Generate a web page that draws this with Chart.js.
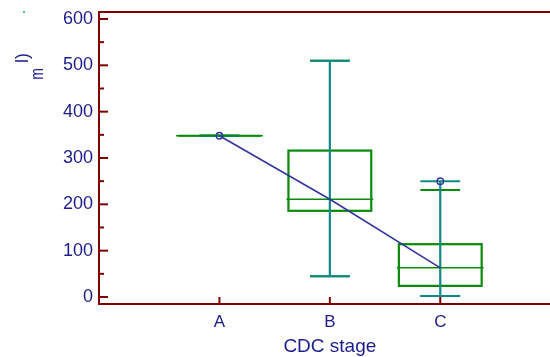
<!DOCTYPE html>
<html><head><meta charset="utf-8">
<style>html,body{margin:0;padding:0;background:#fff}#wrap{width:550px;height:357px}</style>
<script src="https://cdn.jsdelivr.net/npm/chart.js@4/dist/chart.umd.min.js"></script>
</head><body><div id="wrap"><canvas id="c" width="550" height="357"></canvas></div>
<script>
// ---- data ----
const categories = ['A', 'B', 'C'];
const whiskerLow = [348, 45, 2];
const whiskerHigh = [348, 510, 250];
const fenceLow = [348, 45, 2];
const fenceHigh = [348, 510, 231];
const q1 = [348, 186, 24];
const q3 = [348, 316, 114];
const medians = [348, 211, 63];
const markerIndex = [0, 2];
const markerValues = [348, 250];
const yTicks = [0, 100, 200, 300, 400, 500, 600];
const yMinorTicks = [50, 150, 250, 350, 450, 550];
const xTitle = 'CDC stage';

// ---- styles ----
const TEXT = '#1c1c8c';
const AXIS = '#800000';
const GREEN = '#0a8a0a';
const TEAL = '#108888';
const BLUE = '#3535a0';
const FONT = '"Liberation Sans", Arial, sans-serif';

const boxPlugin = {
  id: 'boxes',
  beforeDatasetsDraw(chart) {
    const ctx = chart.ctx, xs = chart.scales.x, ys = chart.scales.y;
    const unit = xs.getPixelForValue(2) - xs.getPixelForValue(1);
    const boxHalf = unit * 0.375, capHalf = unit * 0.18, fenceHalf = unit * 0.18;
    ctx.save();
    categories.forEach((c, i) => {
      const cx = xs.getPixelForValue(i + 1);
      const yq1 = ys.getPixelForValue(q1[i]), yq3 = ys.getPixelForValue(q3[i]);
      ctx.strokeStyle = GREEN; ctx.lineWidth = 2.2;
      ctx.strokeRect(cx - boxHalf, yq3, boxHalf * 2, yq1 - yq3);
      ctx.lineWidth = 2;
      [fenceLow[i], fenceHigh[i]].forEach(v => {
        const y = ys.getPixelForValue(v);
        ctx.beginPath(); ctx.moveTo(cx - fenceHalf, y); ctx.lineTo(cx + fenceHalf, y); ctx.stroke();
      });
      ctx.strokeStyle = TEAL; ctx.lineWidth = 2.2;
      const yl = ys.getPixelForValue(whiskerLow[i]), yh = ys.getPixelForValue(whiskerHigh[i]);
      ctx.beginPath(); ctx.moveTo(cx, yl); ctx.lineTo(cx, yh); ctx.stroke();
      ctx.lineWidth = 2;
      [yl, yh].forEach(y => {
        ctx.beginPath(); ctx.moveTo(cx - capHalf, y); ctx.lineTo(cx + capHalf, y); ctx.stroke();
      });
      const ym = ys.getPixelForValue(medians[i]);
      ctx.strokeStyle = GREEN; ctx.lineWidth = 1.6;
      ctx.beginPath(); ctx.moveTo(cx - boxHalf - 2, ym); ctx.lineTo(cx + boxHalf + 2, ym); ctx.stroke();
    });
    ctx.restore();
  },
  afterDatasetsDraw(chart) {
    const ctx = chart.ctx, xs = chart.scales.x, ys = chart.scales.y, a = chart.chartArea;
    ctx.save();
    ctx.strokeStyle = AXIS; ctx.lineWidth = 2;
    ctx.beginPath();
    ctx.moveTo(chart.width, a.top); ctx.lineTo(a.left, a.top); ctx.lineTo(a.left, a.bottom); ctx.lineTo(chart.width, a.bottom);
    ctx.stroke();
    yTicks.forEach(v => {
      const y = ys.getPixelForValue(v);
      ctx.beginPath(); ctx.moveTo(a.left, y); ctx.lineTo(a.left + 9, y); ctx.stroke();
    });
    yMinorTicks.forEach(v => {
      const y = ys.getPixelForValue(v);
      ctx.beginPath(); ctx.moveTo(a.left, y); ctx.lineTo(a.left + 5, y); ctx.stroke();
    });
    categories.forEach((c, i) => {
      const x = xs.getPixelForValue(i + 1);
      ctx.beginPath(); ctx.moveTo(x, a.bottom); ctx.lineTo(x, a.bottom - 7); ctx.stroke();
    });
    ctx.fillStyle = TEXT;
    ctx.font = '19px ' + FONT;
    ctx.textAlign = 'center'; ctx.textBaseline = 'middle';
    ctx.fillText(xTitle, xs.getPixelForValue(2), 347);
    // clipped y-axis title fragments
    ctx.textBaseline = 'alphabetic';
    ctx.save(); ctx.translate(28, 58); ctx.rotate(-Math.PI / 2);
    ctx.font = '18px ' + FONT; ctx.fillText('l)', 0, 0); ctx.restore();
    ctx.save(); ctx.translate(43, 74); ctx.rotate(-Math.PI / 2); ctx.scale(1, 1.35);
    ctx.font = '14px ' + FONT; ctx.fillText('m', 0, 0); ctx.restore();
    ctx.fillStyle = '#4fb0b0'; ctx.fillRect(23, 11, 2, 2);
    ctx.restore();
  }
};

new Chart(document.getElementById('c'), {
  type: 'line',
  data: {
    datasets: [
      {
        data: medians.map((v, i) => ({ x: i + 1, y: v })),
        borderColor: BLUE, borderWidth: 1.6, pointRadius: 0, fill: false, tension: 0
      },
      {
        type: 'scatter',
        data: markerIndex.map((k, j) => ({ x: k + 1, y: markerValues[j] })),
        pointStyle: 'circle', pointRadius: 3.2, borderColor: BLUE, borderWidth: 1.4,
        backgroundColor: 'rgba(255,255,255,0)'
      }
    ]
  },
  options: {
    responsive: false, animation: false, devicePixelRatio: 1,
    layout: { padding: { top: 12, right: 0, left: 0, bottom: 0 } },
    plugins: { legend: { display: false }, tooltip: { enabled: false } },
    scales: {
      x: {
        type: 'linear', min: -0.0909, max: 3.945,
        afterBuildTicks: s => { s.ticks = categories.map((c, i) => ({ value: i + 1 })); },
        afterFit: s => { s.height = 53; s.paddingLeft = 0; s.paddingRight = 0; },
        ticks: { callback: v => categories[v - 1], font: { family: FONT, size: 17 }, color: TEXT, padding: 8, maxRotation: 0 },
        grid: { display: false, drawTicks: false }, border: { display: false }
      },
      y: {
        type: 'linear', min: -15.1, max: 615.1,
        afterBuildTicks: s => { s.ticks = yTicks.map(v => ({ value: v })); },
        afterFit: s => { s.width = 99; s.paddingTop = 0; s.paddingBottom = 0; },
        ticks: { font: { family: FONT, size: 18 }, color: TEXT, padding: 6 },
        grid: { display: false, drawTicks: false }, border: { display: false }
      }
    }
  },
  plugins: [boxPlugin]
});
</script>
</body></html>
